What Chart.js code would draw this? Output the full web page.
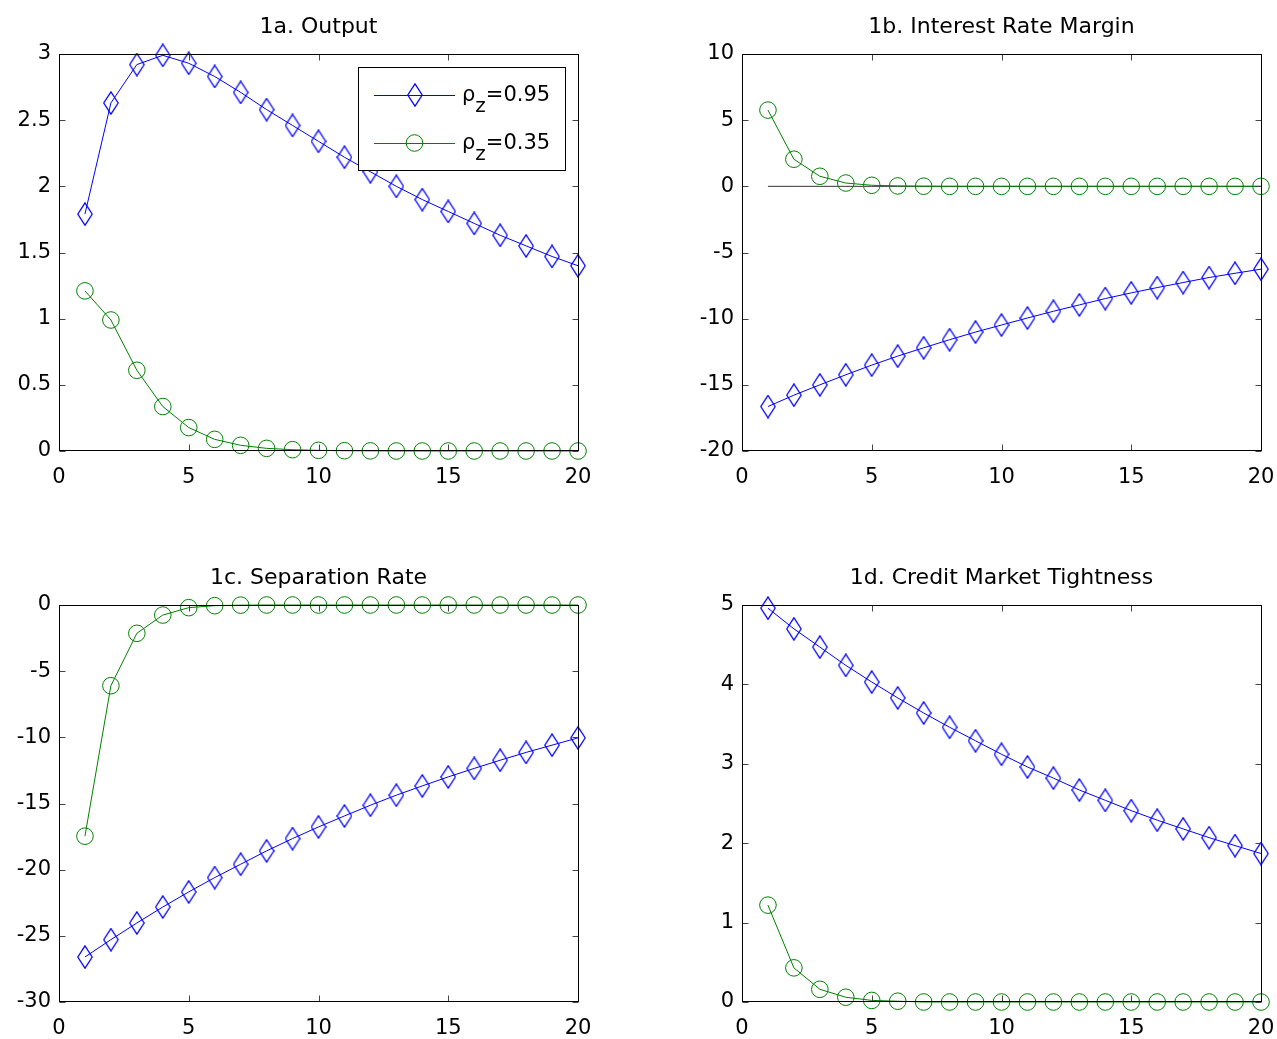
<!DOCTYPE html>
<html>
<head>
<meta charset="utf-8">
<title>Impulse responses</title>
<script src="https://cdn.jsdelivr.net/npm/chart.js@4.4.0/dist/chart.umd.min.js"></script>
<style>
    html, body { margin: 0; padding: 0; background: #fff; overflow: hidden; }
    body { width: 1277px; height: 1039px; position: relative; }
    canvas { position: absolute; }
</style>
</head>
<body>
<canvas id="c1a"></canvas>
<canvas id="c1b"></canvas>
<canvas id="c1c"></canvas>
<canvas id="c1d"></canvas>
<script>
// ------------------------------------------------------------
// Respuestas a un shock de productividad, rho_z = 0.95 vs 0.35
// ------------------------------------------------------------

const periods = [1, 2, 3, 4, 5, 6, 7, 8, 9, 10, 11, 12, 13, 14, 15, 16, 17, 18, 19, 20];
const zeroLine = [0, 0, 0, 0, 0, 0, 0, 0, 0, 0, 0, 0, 0, 0, 0, 0, 0, 0, 0, 0];

const outputHigh = [1.79, 2.63, 2.92, 2.99, 2.93, 2.83, 2.71, 2.58, 2.46, 2.34, 2.22, 2.11, 2.00, 1.90, 1.81, 1.72, 1.63, 1.55, 1.47, 1.40];
const outputLow  = [1.21, 0.99, 0.61, 0.336, 0.177, 0.088, 0.043, 0.02, 0.01, 0.005, 0.002, 0.001, 0, 0, 0, 0, 0, 0, 0, 0];

const marginHigh = [-16.64, -15.78, -15.0, -14.24, -13.51, -12.83, -12.2, -11.59, -11.01, -10.48, -9.95, -9.44, -8.96, -8.48, -8.05, -7.65, -7.27, -6.89, -6.57, -6.26];
const marginLow  = [5.76, 2.05, 0.76, 0.25, 0.08, 0.03, 0.01, 0, 0, 0, 0, 0, 0, 0, 0, 0, 0, 0, 0, 0];

const separationHigh = [-26.6, -25.29, -24.03, -22.82, -21.68, -20.6, -19.59, -18.58, -17.65, -16.77, -15.94, -15.13, -14.37, -13.67, -12.99, -12.35, -11.73, -11.14, -10.59, -10.04];
const separationLow  = [-17.47, -6.1, -2.14, -0.76, -0.2, -0.05, -0.01, 0, 0, 0, 0, 0, 0, 0, 0, 0, 0, 0, 0, 0];

const tightnessHigh = [4.96, 4.70, 4.47, 4.24, 4.03, 3.83, 3.64, 3.46, 3.29, 3.12, 2.96, 2.82, 2.67, 2.54, 2.41, 2.29, 2.18, 2.07, 1.97, 1.87];
const tightnessLow  = [1.22, 0.43, 0.16, 0.06, 0.02, 0.01, 0, 0, 0, 0, 0, 0, 0, 0, 0, 0, 0, 0, 0, 0];

const xTicks           = [0, 5, 10, 15, 20];
const yTicksOutput     = [0, 0.5, 1, 1.5, 2, 2.5, 3];
const yTicksMargin     = [-20, -15, -10, -5, 0, 5, 10];
const yTicksSeparation = [-30, -25, -20, -15, -10, -5, 0];
const yTicksTightness  = [0, 1, 2, 3, 4, 5];

const rhoLabels = ['0.95', '0.35'];

const BLUE  = '#0000ff';
const GREEN = '#008000';
const FONT  = "'DejaVu Sans', sans-serif";

// marcador rombo (más alto que ancho)
const diamond = document.createElement('canvas');
diamond.width = 16; diamond.height = 24;
(() => {
    const g = diamond.getContext('2d');
    g.strokeStyle = BLUE;
    g.lineWidth = 1.25;
    g.beginPath();
    g.moveTo(8, 0.8);
    g.lineTo(15.2, 12);
    g.lineTo(8, 23.2);
    g.lineTo(0.8, 12);
    g.closePath();
    g.stroke();
})();

// marco completo + ticks hacia adentro
const boxFrame = {
    id: 'boxFrame',
    afterDraw(chart) {
        const { ctx, chartArea: a, scales: { x, y } } = chart;
        const L = Math.round(a.left) + 0.5, R = Math.round(a.right) + 0.5;
        const T = Math.round(a.top) + 0.5, B = Math.round(a.bottom) - 0.5;
        ctx.save();
        ctx.strokeStyle = '#444';
        ctx.lineWidth = 1;
        ctx.beginPath();
        x.ticks.forEach(t => {
            const px = Math.round(x.getPixelForValue(t.value)) + 0.5;
            ctx.moveTo(px, B); ctx.lineTo(px, B - 6);
            ctx.moveTo(px, T); ctx.lineTo(px, T + 6);
        });
        y.ticks.forEach(t => {
            const py = Math.round(y.getPixelForValue(t.value)) + 0.5;
            ctx.moveTo(L, py); ctx.lineTo(L + 6, py);
            ctx.moveTo(R, py); ctx.lineTo(R - 6, py);
        });
        ctx.stroke();
        ctx.strokeStyle = '#000';
        ctx.strokeRect(L, T, R - L, B - T);
        ctx.restore();
    }
};

// título centrado sobre el área de datos
const panelTitle = {
    id: 'panelTitle',
    afterDraw(chart, args, opts) {
        const { ctx, chartArea: a } = chart;
        ctx.save();
        ctx.font = `22px ${FONT}`;
        ctx.fillStyle = '#000';
        ctx.textAlign = 'center';
        ctx.textBaseline = 'alphabetic';
        ctx.fillText(opts.text, (a.left + a.right) / 2, a.top - 21);
        ctx.restore();
    }
};

// leyenda con subíndice (solo panel 1a)
const rhoLegend = {
    id: 'rhoLegend',
    afterDraw(chart, args, opts) {
        if (!opts.show) return;
        const { ctx, chartArea: a } = chart;
        const w = 207, h = 103;
        const bx = a.right - 13 - w, by = a.top + 13;
        ctx.save();
        ctx.fillStyle = '#fff';
        ctx.fillRect(bx, by, w, h);
        ctx.strokeStyle = '#000';
        ctx.lineWidth = 1;
        ctx.strokeRect(Math.round(bx) + 0.5, Math.round(by) + 0.5, w, h);

        const colors = [BLUE, GREEN];
        rhoLabels.forEach((lab, i) => {
            const ry = by + 28 + i * 48;
            ctx.strokeStyle = colors[i];
            ctx.beginPath();
            ctx.moveTo(bx + 16, ry + 0.5);
            ctx.lineTo(bx + 97, ry + 0.5);
            ctx.stroke();
            if (i === 0) {
                ctx.drawImage(diamond, Math.round(bx + 56.5 - diamond.width / 2), Math.round(ry - diamond.height / 2));
            } else {
                ctx.beginPath();
                ctx.arc(bx + 56.5, ry, 8.3, 0, Math.PI * 2);
                ctx.stroke();
            }
            ctx.fillStyle = '#000';
            ctx.textBaseline = 'alphabetic';
            ctx.font = `21px ${FONT}`;
            let tx = bx + 104;
            ctx.fillText('ρ', tx, ry + 6);
            tx += ctx.measureText('ρ').width;
            ctx.font = `20px ${FONT}`;
            ctx.fillText('z', tx, ry + 17);
            tx += ctx.measureText('z').width;
            ctx.font = `21px ${FONT}`;
            ctx.fillText('=' + lab, tx, ry + 6);
        });
        ctx.restore();
    }
};

const toPoints = arr => periods.map((p, i) => ({ x: p, y: arr[i] }));

function makePanel(id, box, title, high, low, yTicks, opts) {
    const cv = document.getElementById(id);
    cv.width = box.w; cv.height = box.h;
    cv.style.left = box.cx + 'px';
    cv.style.top = box.cy + 'px';

    const yWidth  = box.l - box.cx;
    const xHeight = box.cy + box.h - box.b;

    const datasets = [
        {
            data: toPoints(low),
            borderColor: GREEN, borderWidth: 1, tension: 0,
            pointStyle: 'circle', pointRadius: 8.3, pointBorderWidth: 1,
            pointBorderColor: GREEN, pointBackgroundColor: 'rgba(0,0,0,0)',
            clip: false
        },
        {
            data: toPoints(high),
            borderColor: BLUE, borderWidth: 1, tension: 0,
            pointStyle: diamond, pointRadius: 8,
            clip: false
        }
    ];
    if (opts.zero) {
        datasets.push({ data: toPoints(zeroLine), borderColor: '#333', borderWidth: 1, pointRadius: 0 });
    }

    new Chart(cv, {
        type: 'line',
        data: { datasets },
        options: {
            responsive: false,
            animation: false,
            events: [],
            layout: { padding: { top: box.t - box.cy, right: box.cx + box.w - box.r, left: 0, bottom: 0 } },
            plugins: {
                legend: { display: false },
                tooltip: { enabled: false },
                panelTitle: { text: title },
                rhoLegend: { show: !!opts.legend }
            },
            scales: {
                x: {
                    type: 'linear', min: 0, max: 20,
                    grid: { display: false, drawTicks: false },
                    border: { display: false },
                    afterBuildTicks: s => { s.ticks = xTicks.map(v => ({ value: v })); },
                    afterFit: s => { s.height = xHeight; },
                    ticks: { color: '#000', padding: 14, maxRotation: 0, callback: v => String(v),
                             font: { family: FONT, size: 21 } }
                },
                y: {
                    min: yTicks[0], max: yTicks[yTicks.length - 1],
                    grid: { display: false, drawTicks: false },
                    border: { display: false },
                    afterBuildTicks: s => { s.ticks = yTicks.map(v => ({ value: v })); },
                    afterFit: s => { s.width = yWidth; },
                    ticks: { color: '#000', padding: 8, callback: v => String(v),
                             font: { family: FONT, size: 21 } }
                }
            }
        },
        plugins: [boxFrame, panelTitle, rhoLegend]
    });
}

makePanel('c1a', { cx: 0,   cy: 0,   w: 640, h: 520, l: 59,  t: 54,  r: 578,  b: 451 },
    '1a. Output', outputHigh, outputLow, yTicksOutput, { legend: true });
makePanel('c1b', { cx: 680, cy: 0,   w: 640, h: 520, l: 742, t: 54,  r: 1261, b: 451 },
    '1b. Interest Rate Margin', marginHigh, marginLow, yTicksMargin, { zero: true });
makePanel('c1c', { cx: 0,   cy: 540, w: 640, h: 499, l: 59,  t: 605, r: 578,  b: 1002 },
    '1c. Separation Rate', separationHigh, separationLow, yTicksSeparation, {});
makePanel('c1d', { cx: 680, cy: 540, w: 640, h: 499, l: 742, t: 605, r: 1261, b: 1002 },
    '1d. Credit Market Tightness', tightnessHigh, tightnessLow, yTicksTightness, {});
</script>
</body>
</html>
